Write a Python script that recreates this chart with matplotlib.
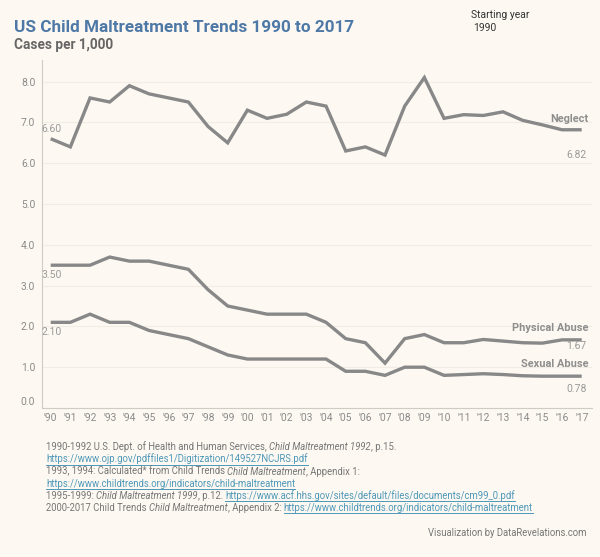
import matplotlib
matplotlib.use("Agg")
import matplotlib.pyplot as plt
from matplotlib.transforms import ScaledTranslation
from matplotlib.lines import Line2D

years = list(range(1990, 2018))
year_labels = ["'" + str(y)[2:] for y in years]

neglect = [6.60, 6.40, 7.60, 7.50, 7.90, 7.70, 7.60, 7.50, 6.90, 6.50,
           7.30, 7.10, 7.20, 7.50, 7.40, 6.30, 6.40, 6.20, 7.40, 8.10,
           7.10, 7.19, 7.17, 7.26, 7.05, 6.94, 6.82, 6.82]
physical = [3.50, 3.50, 3.50, 3.70, 3.60, 3.60, 3.50, 3.40, 2.90, 2.50,
            2.40, 2.30, 2.30, 2.30, 2.10, 1.70, 1.60, 1.10, 1.70, 1.80,
            1.60, 1.60, 1.68, 1.64, 1.60, 1.59, 1.67, 1.67]
sexual = [2.10, 2.10, 2.30, 2.10, 2.10, 1.90, 1.80, 1.70, 1.50, 1.30,
          1.20, 1.20, 1.20, 1.20, 1.20, 0.90, 0.90, 0.80, 1.00, 1.00,
          0.80, 0.82, 0.84, 0.82, 0.79, 0.78, 0.78, 0.78]
series_names = ["Neglect", "Physical Abuse", "Sexual Abuse"]
y_ticks = [0, 1, 2, 3, 4, 5, 6, 7, 8]

BG = "#fdf9f2"
LINE = "#888888"
LABEL = "#8e8e8e"
TICK = "#8a8a8a"
LINK = "#4d97b8"
FOOT = "#767676"

plt.rcParams['font.family'] = ['Roboto', 'DejaVu Sans']

W, H = 600, 557
fig = plt.figure(figsize=(W / 100, H / 100), dpi=100, facecolor=BG)

def fx(px):
    return px / W

def fy(py):
    return 1 - py / H

ax_l, ax_r, ax_t, ax_b = 41.7, 592, 60, 408
ax = fig.add_axes([fx(ax_l), fy(ax_b), fx(ax_r - ax_l), (ax_b - ax_t) / H])
ax.set_facecolor(BG)

for vals in (neglect, physical, sexual):
    ax.plot(years, vals, color=LINE, lw=2.4, solid_joinstyle='miter',
            solid_capstyle='butt', zorder=3)

ax.set_xlim(1990 - 9 / 19.67, 2017 + 10.3 / 19.67)
ax.set_ylim(0, 8.53)
ax.set_yticks(y_ticks)
ax.set_yticklabels([f"{v:.1f}" for v in y_ticks])
ax.set_xticks(years)
ax.set_xticklabels(year_labels)
ax.tick_params(axis='both', length=0, colors=TICK, labelsize=7.4)
ax.tick_params(axis='y', pad=4.6)
ax.tick_params(axis='x', pad=3.4)
ax.grid(axis='y', color="#f1ede4", lw=0.8, zorder=0)
ax.grid(axis='x', visible=False)
for s in ('top', 'right'):
    ax.spines[s].set_visible(False)
for s in ('left', 'bottom'):
    ax.spines[s].set_color("#cfccc6")
    ax.spines[s].set_linewidth(0.8)

# shift the 0.0 tick label up slightly
lab0 = ax.get_yticklabels()[0]
lab0.set_transform(lab0.get_transform() + ScaledTranslation(0, 7 / 100, fig.dpi_scale_trans))

def ann(x, y, txt, dx, dy, ha, bold=False, color=LABEL, size=7.5):
    ax.annotate(txt, (x, y), xytext=(dx, dy), textcoords='offset pixels',
                ha=ha, va='center', fontsize=size, color=color,
                fontweight='bold' if bold else 'normal', zorder=4)

NUM = "#9a9a9a"
ann(years[0], neglect[0], f"{neglect[0]:.2f}", -9, 10, 'left', color=NUM)
ann(years[0], physical[0], f"{physical[0]:.2f}", -9, -10, 'left', color=NUM)
ann(years[0], sexual[0], f"{sexual[0]:.2f}", -9, -10, 'left', color=NUM)

ann(years[-1], neglect[-1], series_names[0], 7, 11, 'right', bold=True, size=7.9)
ann(years[-1], neglect[-1], f"{neglect[-1]:.2f}", 5, -25, 'right', color=NUM)
ann(years[-1], physical[-1], series_names[1], 7, 12, 'right', bold=True, size=7.9)
ann(years[-1], physical[-1], f"{physical[-1]:.2f}", 5, -6, 'right', color=NUM)
ann(years[-1], sexual[-1], series_names[2], 7, 12, 'right', bold=True, size=7.9)
ann(years[-1], sexual[-1], f"{sexual[-1]:.2f}", 5, -13, 'right', color=NUM)

# title block
fig.text(fx(13.5), fy(31.7), "US Child Maltreatment Trends 1990 to 2017",
         fontsize=12.35, fontweight='bold', color="#4e79a7", va='baseline', ha='left')
fig.text(fx(13.5), fy(49.5), "Cases per 1,000", fontsize=9.8, fontweight='bold',
         color="#666666", va='baseline', ha='left')
fig.text(fx(471), fy(18), "Starting year", fontsize=7.5, color="#333333",
         va='baseline', ha='left')
fig.text(fx(473), fy(30.7), "1990", fontsize=7.5, color="#333333",
         va='baseline', ha='left')

renderer = fig.canvas.get_renderer()
FS = 6.85

def rich_line(x_px, base_px, pieces):
    x = x_px
    for txt, kind in pieces:
        style = 'italic' if kind == 'i' else 'normal'
        color = LINK if kind == 'u' else FOOT
        t = fig.text(fx(x), fy(base_px), txt, fontsize=FS, style=style,
                     color=color, va='baseline', ha='left')
        bb = t.get_window_extent(renderer)
        if kind == 'u':
            uy = base_px + 2.0
            fig.add_artist(Line2D([fx(x), fx(x + bb.width)], [fy(uy), fy(uy)],
                                  transform=fig.transFigure, color=LINK, lw=0.7))
        x += bb.width

foot_lines = [
    [("1990-1992 U.S. Dept. of Health and Human Services, ", 'n'),
     ("Child Maltreatment 1992", 'i'), (", p.15.", 'n')],
    [("https://www.ojp.gov/pdffiles1/Digitization/149527NCJRS.pdf", 'u')],
    [("1993, 1994: Calculated* from Child Trends ", 'n'),
     ("Child Maltreatment", 'i'), (", Appendix 1:", 'n')],
    [("https://www.childtrends.org/indicators/child-maltreatment", 'u')],
    [("1995-1999: ", 'n'), ("Child Maltreatment 1999", 'i'), (", p.12. ", 'n'),
     ("https://www.acf.hhs.gov/sites/default/files/documents/cm99_0.pdf", 'u')],
    [("2000-2017 Child Trends ", 'n'), ("Child Maltreatment", 'i'),
     (", Appendix 2: ", 'n'),
     ("https://www.childtrends.org/indicators/child-maltreatment", 'u')],
]
for i, pieces in enumerate(foot_lines):
    rich_line(46, 450.3 + i * 12.2, pieces)

fig.text(fx(586), fy(535.7), "Visualization by DataRevelations.com", fontsize=FS,
         color=FOOT, va='baseline', ha='right')

fig.savefig("out.png", dpi=100, facecolor=BG)
